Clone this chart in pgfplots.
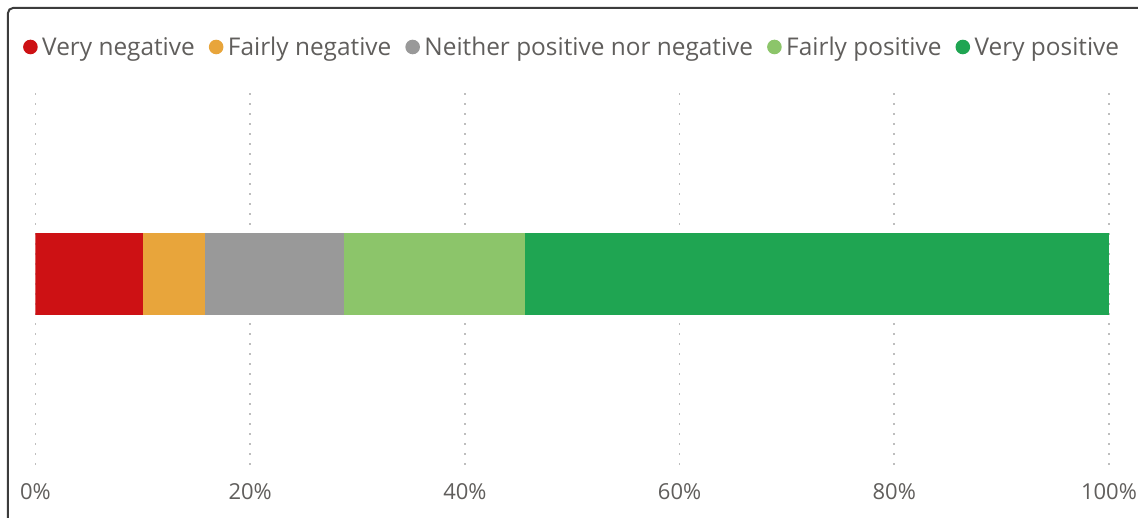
\documentclass[border=0pt]{standalone}
\usepackage{pgfplots}
\pgfplotsset{compat=1.18}
\usepackage{fontspec}
\setmainfont{Open Sans}
\definecolor{cRed}{RGB}{205,17,20}
\definecolor{cOrange}{RGB}{232,165,59}
\definecolor{cGray}{RGB}{153,153,153}
\definecolor{cLGreen}{RGB}{140,197,106}
\definecolor{cDGreen}{RGB}{31,165,82}
\definecolor{cText}{RGB}{96,94,92}
\definecolor{cGrid}{RGB}{190,190,190}
\definecolor{cFrame}{RGB}{60,60,60}
\begin{document}
\begin{tikzpicture}[x=1pt,y=1pt]
\path[use as bounding box] (-35.5,-52) rectangle (1102.5,465);
\clip (-35.5,-52) rectangle (1102.5,465);
\draw[line width=2pt, cFrame, rounded corners=5pt] (-27.5,-200) -- (-27.5,457) -- (1300,457);
\begin{axis}[
  at={(0,0)}, anchor=south west,
  scale only axis, width=1073.5pt, height=377pt,
  xbar stacked,
  xmin=0, xmax=100, ymin=-1.013, ymax=0.987,
  bar width=0.435,
  ytick=\empty,
  xtick={0,20,40,60,80,100},
  xticklabel={\pgfmathprintnumber{\tick}\%},
  /pgf/number format/assume math mode=true,
  xticklabel style={font=\fontsize{22}{26}\selectfont, text=cText, inner sep=0pt, anchor=north, yshift=-18pt},
  xmajorgrids,
  grid style={cGrid, line width=1.6pt, dash pattern=on 1.6pt off 8.4pt},
  axis line style={draw=none},
  major tick length=0pt,
  legend columns=5,
  legend style={draw=none, fill=none, at={(-0.0145,1.1088)}, anchor=west,
    font=\fontsize{24.4}{29}\selectfont, text=cText,
    nodes={inner sep=0pt},
    /tikz/every odd column/.append style={column sep=4.5pt},
    /tikz/every even column/.append style={column sep=14pt}},
]
\addplot[fill=cRed, draw=none, legend image code/.code={\fill[cRed] (0pt,0pt) circle (7.3pt);}] coordinates {(10.0,0)};
\addplot[fill=cOrange, draw=none, legend image code/.code={\fill[cOrange] (0pt,0pt) circle (7.3pt);}] coordinates {(5.8,0)};
\addplot[fill=cGray, draw=none, legend image code/.code={\fill[cGray] (0pt,0pt) circle (7.3pt);}] coordinates {(12.9,0)};
\addplot[fill=cLGreen, draw=none, legend image code/.code={\fill[cLGreen] (0pt,0pt) circle (7.3pt);}] coordinates {(16.9,0)};
\addplot[fill=cDGreen, draw=none, legend image code/.code={\fill[cDGreen] (0pt,0pt) circle (7.3pt);}] coordinates {(54.4,0)};
\legend{Very negative, Fairly negative, Neither positive nor negative, Fairly positive, Very positive}
\end{axis}
\end{tikzpicture}
\end{document}
